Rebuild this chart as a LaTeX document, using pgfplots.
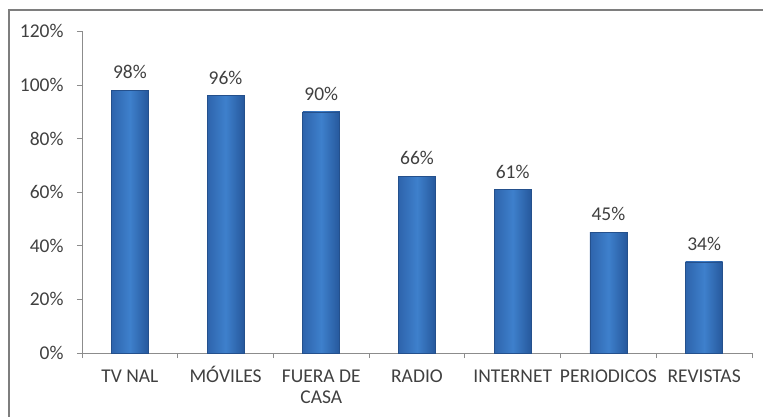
\documentclass[border=0pt]{standalone}
\usepackage{fontspec}
\setmainfont{Carlito}
\usepackage{pgfplots}
\pgfplotsset{compat=1.18}
\definecolor{txt}{RGB}{64,64,64}
\definecolor{axgray}{RGB}{140,140,140}
\definecolor{barL}{RGB}{46,100,172}
\definecolor{barM}{RGB}{62,128,204}
\definecolor{barR}{RGB}{38,88,156}
\definecolor{barE}{RGB}{36,80,140}
\pgfplotsset{bstyle/.style={draw=barE, line width=0.6pt, left color=barL, right color=barR, middle color=barM}}
\begin{document}
\begin{tikzpicture}[x=1pt,y=1pt]
\path[use as bounding box] (0,0) rectangle (763,416);
\draw[axgray!90!black, line width=1.6pt] (9,-2) -- (9,406) -- (765,406);
\begin{axis}[
  at={(82pt,63pt)}, anchor=south west,
  scale only axis, width=670pt, height=321.6pt,
  xmin=-0.5, xmax=6.5, ymin=0, ymax=120,
  ytick={0,20,...,120},
  yticklabel={\pgfmathprintnumber{\tick}\%},
  /pgf/number format/assume math mode=true,
  xtick={0,...,6},
  xticklabels={TV NAL, {M\smash{Ó}VILES}, {FUERA DE\\CASA}, RADIO, INTERNET, PERIODICOS, REVISTAS},
  minor xtick={-0.5,0.5,...,6.5},
  major x tick style={draw=none},
  minor tick length=5pt, major tick length=5pt,
  tick align=outside,
  tick style={axgray, line width=0.8pt},
  axis lines*=left,
  axis line style={axgray, line width=0.8pt},
  ticklabel style={font=\fontsize{19.5}{21}\selectfont, text=txt},
  xticklabel style={align=center, anchor=north, yshift=-8pt},
  yticklabel style={xshift=-10pt},
  ybar, bar width=37pt, bar shift=0pt,
  nodes near coords={\pgfmathprintnumber{\pgfplotspointmeta}\%},
  every node near coord/.append style={font=\fontsize{19.5}{21}\selectfont, text=txt, anchor=center, yshift=18pt},
  clip=false,
]
\addplot[bstyle] coordinates {(0,98)};
\addplot[bstyle] coordinates {(1,96)};
\addplot[bstyle] coordinates {(2,90)};
\addplot[bstyle] coordinates {(3,66)};
\addplot[bstyle] coordinates {(4,61)};
\addplot[bstyle] coordinates {(5,45)};
\addplot[bstyle] coordinates {(6,34)};
\end{axis}
\end{tikzpicture}
\end{document}
